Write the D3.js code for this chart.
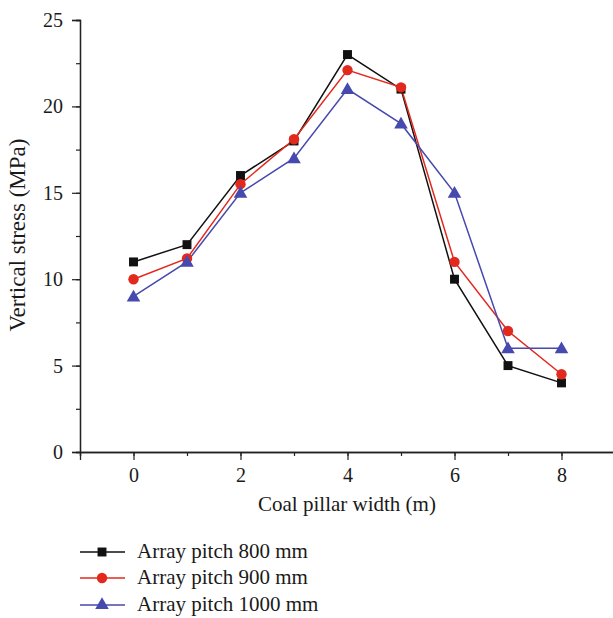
<!DOCTYPE html>
<html lang="en">
  <head>
    <meta charset="UTF-8" />
    <title>Vertical stress vs coal pillar width</title>
    <script src="https://cdn.jsdelivr.net/npm/d3@7"></script>
    <style>
      body { margin: 0; background: #fff; }
      text { font-family: "Liberation Serif", "DejaVu Serif", serif; fill: #1a1a1a; }
    </style>
  </head>
  <body>
    <div id="chart"></div>
    <script>
      // data
      const widths = [0, 1, 2, 3, 4, 5, 6, 7, 8];
      const pitch800 = [11, 12, 16, 18, 23, 21, 10, 5, 4];
      const pitch900 = [10, 11.2, 15.5, 18.1, 22.1, 21.1, 11, 7, 4.5];
      const pitch1000 = [9, 11, 15, 17, 21, 19, 15, 6, 6];
      const seriesNames = ["Array pitch 800 mm", "Array pitch 900 mm", "Array pitch 1000 mm"];
      const xTicks = [0, 2, 4, 6, 8];
      const yTicks = [0, 5, 10, 15, 20, 25];

      const series = [
        { name: seriesNames[0], values: pitch800, color: "#111111", symbol: d3.symbolSquare, size: 80 },
        { name: seriesNames[1], values: pitch900, color: "#e2291d", symbol: d3.symbolCircle, size: 85 },
        { name: seriesNames[2], values: pitch1000, color: "#4649ad", symbol: d3.symbolTriangle, size: 80 },
      ];

      const W = 613, H = 618;
      const svg = d3.select("#chart").append("svg").attr("width", W).attr("height", H);

      const x = d3.scaleLinear().domain([-1, 9]).range([80, 615]);
      const y = d3.scaleLinear().domain([0, 25]).range([452, 20]);

      // axes
      const xAxis = svg.append("g").attr("transform", "translate(0,452)");
      xAxis.call(d3.axisBottom(x).tickValues(d3.range(-1, 10)).tickSize(4).tickFormat(""));
      xAxis.append("g").call(d3.axisBottom(x).tickValues(xTicks).tickSize(8).tickPadding(8).tickFormat(d3.format("d")));
      const yAxis = svg.append("g").attr("transform", "translate(80,0)");
      yAxis.call(d3.axisLeft(y).tickValues(d3.range(0, 25.1, 2.5)).tickSize(4).tickFormat(""));
      yAxis.append("g").call(d3.axisLeft(y).tickValues(yTicks).tickSize(8).tickPadding(9).tickFormat(d3.format("d")));
      svg.selectAll(".domain").attr("stroke", "#222").attr("stroke-width", 1.3);
      svg.selectAll(".tick line").attr("stroke", "#222").attr("stroke-width", 1.2);
      svg.selectAll(".tick text").style("font-size", "20px").attr("fill", "#1a1a1a")
        .style("font-family", '"Liberation Serif", serif');

      // axis titles
      svg.append("text").attr("x", 347).attr("y", 511).attr("text-anchor", "middle")
        .style("font-size", "21px").text("Coal pillar width (m)");
      svg.append("text").attr("transform", "translate(25,235) rotate(-90)").attr("text-anchor", "middle")
        .style("font-size", "23px").text("Vertical stress (MPa)");

      // lines + markers
      const line = d3.line().x((d, i) => x(widths[i])).y((d) => y(d));
      series.forEach((s) => {
        svg.append("path").datum(s.values).attr("d", line)
          .attr("fill", "none").attr("stroke", s.color).attr("stroke-width", 1.5);
      });
      series.forEach((s) => {
        svg.selectAll(null).data(s.values).enter().append("path")
          .attr("d", d3.symbol().type(s.symbol).size(s.size))
          .attr("transform", (d, i) => `translate(${x(widths[i])},${y(d) + (s.symbol === d3.symbolTriangle ? 1 : 0)})`)
          .attr("fill", s.color);
      });

      // legend
      const legendY = [552, 578, 605];
      series.forEach((s, i) => {
        const g = svg.append("g").attr("transform", `translate(0,${legendY[i]})`);
        g.append("line").attr("x1", 80).attr("x2", 125).attr("y1", 0).attr("y2", 0)
          .attr("stroke", s.color).attr("stroke-width", 1.5);
        g.append("path").attr("d", d3.symbol().type(s.symbol).size(s.size))
          .attr("transform", "translate(102,0)").attr("fill", s.color);
        g.append("text").attr("x", 137).attr("y", 6).style("font-size", "21px").text(s.name);
      });
    </script>
  </body>
</html>
